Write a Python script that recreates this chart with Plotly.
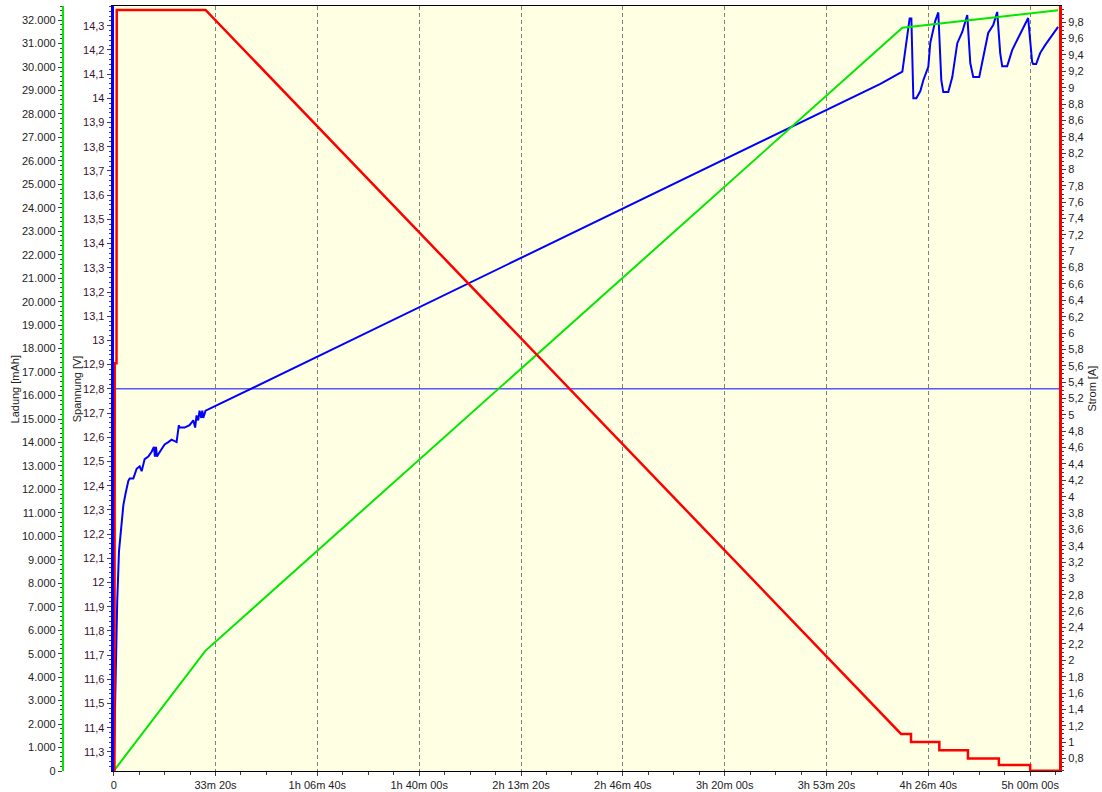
import plotly.graph_objects as go

# ---------------- data ----------------
# time in seconds
x_tickvals = [0, 2000, 4000, 6000, 8000, 10000, 12000, 14000, 16000, 18000]
x_ticktext = ["0", "33m 20s", "1h 06m 40s", "1h 40m 00s", "2h 13m 20s", "2h 46m 40s",
              "3h 20m 00s", "3h 53m 20s", "4h 26m 40s", "5h 00m 00s"]
t_max = 18569

# Spannung [V]
volt_t = [0, 20, 39, 69, 104, 143, 190, 235, 288, 314, 386, 451, 510, 549, 608, 680, 745,
          790, 810, 830, 850, 876, 941, 1000, 1073, 1137, 1235, 1280, 1294, 1333, 1392, 1490,
          1563, 1600, 1627, 1660, 1686, 1720, 1740, 1759, 1804, 1857,
          15059, 15490, 15529, 15569, 15633, 15667, 15706, 15765, 15843, 15902, 16000, 16039,
          16137, 16196, 16255, 16294, 16392, 16471, 16569, 16667, 16726, 16765, 16824, 16882,
          17000, 17078, 17176, 17275, 17353, 17412, 17451, 17549, 17647, 17745, 17863, 17961,
          18039, 18059, 18118, 18196, 18294, 18392, 18490, 18549]
volt_v = [11.22, 11.43, 11.66, 11.92, 12.13, 12.21, 12.32, 12.37, 12.42, 12.43, 12.43, 12.47,
          12.48, 12.46, 12.51, 12.52, 12.54, 12.56, 12.52, 12.56, 12.52, 12.53, 12.55, 12.57,
          12.58, 12.59, 12.58, 12.65, 12.64, 12.64, 12.64, 12.65, 12.67, 12.64, 12.69, 12.67,
          12.71, 12.68, 12.71, 12.68, 12.71, 12.715,
          14.06, 14.11, 14.17, 14.25, 14.33, 14.33, 14.00, 14.00, 14.03, 14.075, 14.13, 14.23,
          14.32, 14.355, 14.075, 14.026, 14.026, 14.088, 14.228, 14.274, 14.315, 14.344, 14.146,
          14.088, 14.088, 14.166, 14.270, 14.303, 14.357, 14.187, 14.133, 14.133, 14.199,
          14.241, 14.290, 14.332, 14.150, 14.142, 14.142, 14.187, 14.220, 14.249, 14.274, 14.295]

# Ladung [mAh]
charge_t = [0, 1800, 15490, 18549]
charge_mah = [0, 5120, 31670, 32420]

# Strom [A]
curr_t = [0, 15, 20, 55, 60, 1804, 15464, 15660, 15660, 16216, 16216, 16778, 16778,
          17386, 17386, 18000, 18000, 18569]
curr_a = [0.65, 0.65, 5.63, 5.63, 9.95, 9.95, 1.1, 1.1, 1.0, 1.0, 0.9, 0.9, 0.8, 0.8,
          0.72, 0.72, 0.65, 0.65]

# horizontal marker line (voltage)
marker_t = [0, t_max]
marker_v = [12.8, 12.8]

# ---------------- figure ----------------
W, H = 1102, 792
FONT = "Liberation Sans, Arial, sans-serif"
TXT = "#222222"
TICKC = "#404040"

fig = go.Figure()
fig.add_trace(go.Scatter(x=volt_t, y=volt_v, mode="lines", yaxis="y",
                         line=dict(color="#0000FF", width=2), showlegend=False))
fig.add_trace(go.Scatter(x=marker_t, y=marker_v, mode="lines", yaxis="y",
                         line=dict(color="#0000FF", width=1), showlegend=False))
fig.add_trace(go.Scatter(x=charge_t, y=charge_mah, mode="lines", yaxis="y2",
                         line=dict(color="#00E800", width=2), showlegend=False))
fig.add_trace(go.Scatter(x=curr_t, y=curr_a, mode="lines", yaxis="y3",
                         line=dict(color="#FF0000", width=2.5), showlegend=False))

x0, x1 = 111 / W, 1059 / W
tickfont = dict(family=FONT, size=11, color=TXT)

fig.update_layout(
    width=W, height=H,
    margin=dict(l=0, r=0, t=6, b=21),
    paper_bgcolor="white",
    plot_bgcolor="#FFFFE3",
    separators=",.",
    font=dict(family=FONT, size=11, color=TXT),
    showlegend=False,
    xaxis=dict(
        domain=[x0, x1], range=[0, t_max],
        tickvals=x_tickvals, ticktext=x_ticktext,
        showline=True, linecolor="black", linewidth=1, mirror=True,
        ticks="outside", ticklen=4, tickcolor=TICKC,
        minor=dict(dtick=500, tick0=0, ticks="outside", ticklen=3, tickcolor=TICKC, showgrid=False),
        showgrid=True, gridcolor="#808080", gridwidth=1, griddash="4px,3px",
        zeroline=False, tickfont=tickfont,
    ),
    yaxis=dict(
        range=[11.2214, 14.3815], tick0=11.3, dtick=0.1,
        side="left", anchor="x",
        showline=True, linecolor="#0000FF", linewidth=3,
        ticks="outside", ticklen=4, tickcolor=TICKC,
        minor=dict(dtick=0.02, tick0=11.3, ticks="outside", ticklen=2, tickcolor=TICKC),
        showgrid=False, zeroline=False,
        tickfont=dict(family=FONT, size=11, color="#3a1030"),
    ),
    yaxis2=dict(
        range=[0, 32600], tick0=0, dtick=1000, tickformat=",d",
        overlaying="y", side="left", anchor="free", position=60 / W,
        showline=True, linecolor="#00E800", linewidth=2,
        ticks="outside", ticklen=4, tickcolor=TICKC,
        minor=dict(dtick=200, tick0=0, ticks="outside", ticklen=2, tickcolor=TICKC),
        showgrid=False, zeroline=False, tickfont=tickfont,
    ),
    yaxis3=dict(
        range=[0.647, 9.998], tick0=0.8, dtick=0.2,
        overlaying="y", side="right", anchor="x",
        showline=True, linecolor="#FF0000", linewidth=3,
        ticks="outside", ticklen=4, tickcolor=TICKC,
        minor=dict(dtick=0.05, tick0=0.8, ticks="outside", ticklen=2, tickcolor=TICKC),
        showgrid=False, zeroline=False, tickfont=tickfont,
    ),
)

titles = [("Ladung [mAh]", 12), ("Spannung [V]", 74), ("Strom [A]", 1091)]
for txt, px in titles:
    fig.add_annotation(text=txt, xref="paper", yref="paper", x=px / W, y=0.5,
                       textangle=-90, showarrow=False, xanchor="center", yanchor="middle",
                       font=dict(family=FONT, size=11, color=TXT))

fig.write_html("out.html", config={"displayModeBar": False},
               post_script="document.body.style.margin='0';document.body.style.overflow='hidden';")
